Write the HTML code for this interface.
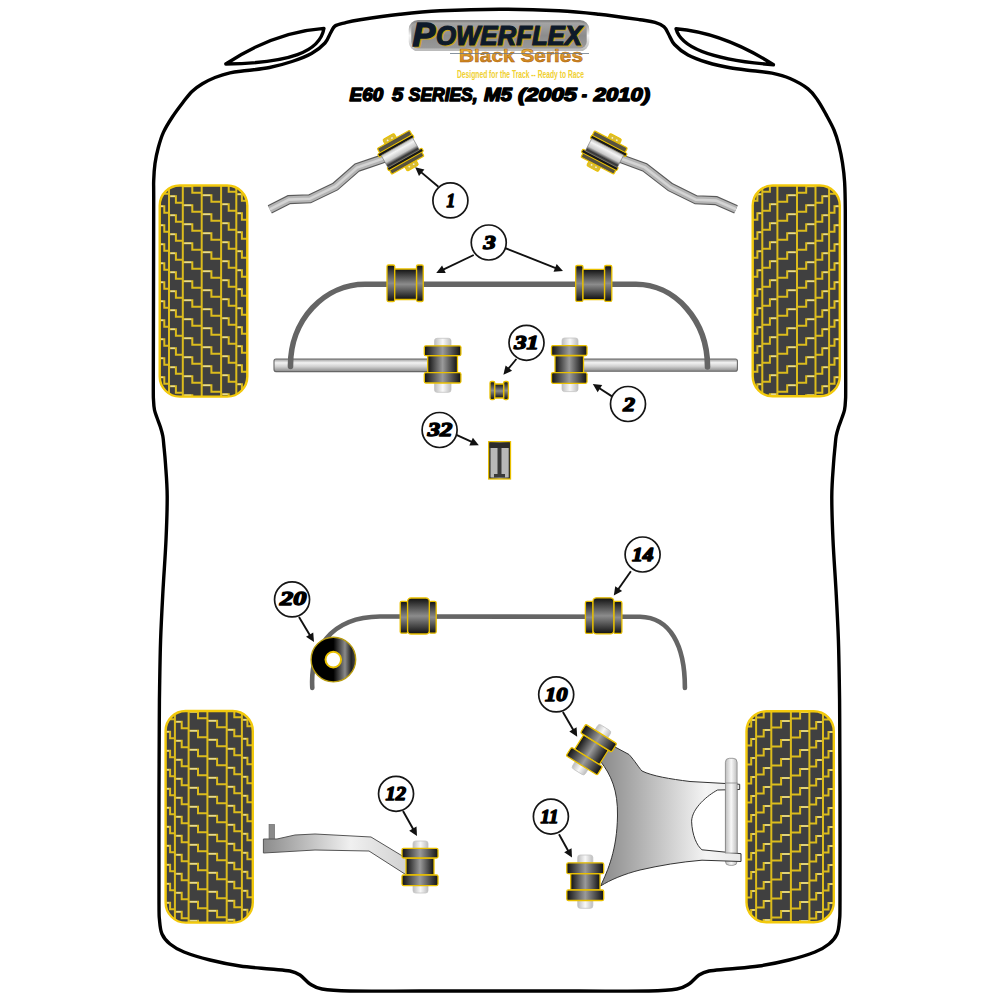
<!DOCTYPE html>
<html><head><meta charset="utf-8"><style>
html,body{margin:0;padding:0;background:#fff;width:1000px;height:1000px;overflow:hidden}
svg{display:block}
</style></head><body>
<svg width="1000" height="1000" viewBox="0 0 1000 1000">
<defs>
<linearGradient id="gV" x1="0" y1="0" x2="0" y2="1">
 <stop offset="0" stop-color="#111"/><stop offset="0.5" stop-color="#8c8c8c"/><stop offset="1" stop-color="#111"/>
</linearGradient>
<linearGradient id="gH" x1="0" y1="0" x2="1" y2="0">
 <stop offset="0" stop-color="#111"/><stop offset="0.5" stop-color="#9a9a9a"/><stop offset="1" stop-color="#111"/>
</linearGradient>
<linearGradient id="gBar" x1="0" y1="0" x2="0" y2="1">
 <stop offset="0" stop-color="#9a9a9a"/><stop offset="0.3" stop-color="#f2f2f2"/><stop offset="0.6" stop-color="#d0d0d0"/><stop offset="1" stop-color="#8a8a8a"/>
</linearGradient>
<linearGradient id="gBolt" x1="0" y1="0" x2="1" y2="0">
 <stop offset="0" stop-color="#bdbdbd"/><stop offset="0.5" stop-color="#f8f8f8"/><stop offset="1" stop-color="#bdbdbd"/>
</linearGradient>
<linearGradient id="gSilver" x1="0" y1="0" x2="0" y2="1">
 <stop offset="0" stop-color="#bcbcbc"/><stop offset="0.25" stop-color="#f4f4f4"/><stop offset="0.6" stop-color="#c8c8c8"/><stop offset="0.85" stop-color="#333"/><stop offset="1" stop-color="#555"/>
</linearGradient>
<linearGradient id="gFlange" x1="0" y1="0" x2="0" y2="1">
 <stop offset="0" stop-color="#d8b418"/><stop offset="0.35" stop-color="#3a3414"/><stop offset="0.55" stop-color="#c8a818"/><stop offset="1" stop-color="#9a8420"/>
</linearGradient>
<linearGradient id="gDisc" x1="0" y1="0" x2="1" y2="0">
 <stop offset="0" stop-color="#000"/><stop offset="0.5" stop-color="#000"/><stop offset="0.76" stop-color="#8a8a8a"/><stop offset="0.9" stop-color="#222"/><stop offset="1" stop-color="#444"/>
</linearGradient>
<linearGradient id="gArm" x1="0" y1="0" x2="1" y2="0">
 <stop offset="0" stop-color="#8c8c8c"/><stop offset="0.6" stop-color="#f0f0f0"/><stop offset="1" stop-color="#d0d0d0"/>
</linearGradient>
<linearGradient id="gWish" x1="0" y1="0" x2="1" y2="0">
 <stop offset="0" stop-color="#8a8a8a"/><stop offset="0.75" stop-color="#f4f4f4"/><stop offset="1" stop-color="#e8e8e8"/>
</linearGradient>


<linearGradient id="gLogoBg" x1="0" y1="0" x2="0" y2="1">
 <stop offset="0" stop-color="#a8a8a8"/><stop offset="0.5" stop-color="#8c8c8c"/><stop offset="1" stop-color="#9a9a9a"/>
</linearGradient>
<linearGradient id="gLogoBd" x1="0" y1="0" x2="0" y2="1">
 <stop offset="0" stop-color="#888"/><stop offset="0.5" stop-color="#f4f4f4"/><stop offset="1" stop-color="#bbb"/>
</linearGradient>
<linearGradient id="gOrange" x1="0" y1="0" x2="0" y2="1">
 <stop offset="0" stop-color="#f2c040"/><stop offset="1" stop-color="#c87818"/>
</linearGradient>
</defs>
<path d="M499.50 9.20 C479.67 9.20 456.58 9.95 440.00 10.80 C423.42 11.65 413.33 12.80 400.00 14.30 C386.67 15.80 369.17 18.38 360.00 19.80 C350.83 21.22 349.17 21.77 345.00 22.80 C340.83 23.83 337.42 24.30 335.00 26.00 C332.58 27.70 332.17 30.17 330.50 33.00 C328.83 35.83 328.17 39.58 325.00 43.00 C321.83 46.42 317.00 50.42 311.50 53.50 C306.00 56.58 299.00 59.17 292.00 61.50 C285.00 63.83 277.00 66.00 269.50 67.50 C262.00 69.00 253.58 69.62 247.00 70.50 C240.42 71.38 235.33 71.63 230.00 72.80 C224.67 73.97 219.60 75.67 215.00 77.50 C210.40 79.33 206.23 81.47 202.40 83.80 C198.57 86.13 195.25 88.38 192.00 91.50 C188.75 94.62 186.15 98.28 182.90 102.50 C179.65 106.72 175.75 111.82 172.50 116.80 C169.25 121.78 165.78 127.20 163.40 132.40 C161.02 137.60 159.60 142.80 158.20 148.00 C156.80 153.20 155.75 158.18 155.00 163.60 C154.25 169.02 153.92 174.43 153.70 180.50 C153.48 186.57 153.73 180.08 153.70 200.00 C153.67 219.92 153.57 269.17 153.50 300.00 C153.43 330.83 153.30 368.33 153.30 385.00 C153.30 401.67 153.30 395.83 153.50 400.00 C153.70 404.17 153.87 406.92 154.50 410.00 C155.13 413.08 156.32 415.67 157.30 418.50 C158.28 421.33 159.48 424.08 160.40 427.00 C161.32 429.92 162.23 433.00 162.80 436.00 C163.37 439.00 163.35 440.33 163.80 445.00 C164.25 449.67 164.93 455.50 165.50 464.00 C166.07 472.50 167.12 483.33 167.20 496.00 C167.28 508.67 166.72 524.00 166.00 540.00 C165.28 556.00 163.80 575.33 162.90 592.00 C162.00 608.67 161.15 624.00 160.60 640.00 C160.05 656.00 159.82 674.67 159.60 688.00 C159.38 701.33 159.40 701.33 159.30 720.00 C159.20 738.67 159.05 770.00 159.00 800.00 C158.95 830.00 158.92 880.00 159.00 900.00 C159.08 920.00 159.00 914.33 159.50 920.00 C160.00 925.67 160.25 930.00 162.00 934.00 C163.75 938.00 166.33 941.00 170.00 944.00 C173.67 947.00 177.33 949.33 184.00 952.00 C190.67 954.67 200.67 957.67 210.00 960.00 C219.33 962.33 230.00 964.50 240.00 966.00 C250.00 967.50 261.67 968.17 270.00 969.00 C278.33 969.83 285.00 970.00 290.00 971.00 C295.00 972.00 296.67 972.83 300.00 975.00 C303.33 977.17 306.33 981.67 310.00 984.00 C313.67 986.33 315.33 987.83 322.00 989.00 C328.67 990.17 333.67 990.67 350.00 991.00 C366.33 991.33 395.08 991.00 420.00 991.00 C444.92 991.00 473.00 991.00 499.50 991.00 C526.00 991.00 554.08 991.00 579.00 991.00 C603.92 991.00 632.67 991.33 649.00 991.00 C665.33 990.67 670.33 990.17 677.00 989.00 C683.67 987.83 685.33 986.33 689.00 984.00 C692.67 981.67 695.67 977.17 699.00 975.00 C702.33 972.83 704.00 972.00 709.00 971.00 C714.00 970.00 720.67 969.83 729.00 969.00 C737.33 968.17 749.00 967.50 759.00 966.00 C769.00 964.50 779.67 962.33 789.00 960.00 C798.33 957.67 808.33 954.67 815.00 952.00 C821.67 949.33 825.33 947.00 829.00 944.00 C832.67 941.00 835.25 938.00 837.00 934.00 C838.75 930.00 839.00 925.67 839.50 920.00 C840.00 914.33 839.92 920.00 840.00 900.00 C840.08 880.00 840.05 830.00 840.00 800.00 C839.95 770.00 839.80 738.67 839.70 720.00 C839.60 701.33 839.62 701.33 839.40 688.00 C839.18 674.67 838.95 656.00 838.40 640.00 C837.85 624.00 837.00 608.67 836.10 592.00 C835.20 575.33 833.72 556.00 833.00 540.00 C832.28 524.00 831.72 508.67 831.80 496.00 C831.88 483.33 832.93 472.50 833.50 464.00 C834.07 455.50 834.75 449.67 835.20 445.00 C835.65 440.33 835.63 439.00 836.20 436.00 C836.77 433.00 837.68 429.92 838.60 427.00 C839.52 424.08 840.72 421.33 841.70 418.50 C842.68 415.67 843.87 413.08 844.50 410.00 C845.13 406.92 845.30 404.17 845.50 400.00 C845.70 395.83 845.70 401.67 845.70 385.00 C845.70 368.33 845.57 329.17 845.50 300.00 C845.43 270.83 845.45 229.67 845.30 210.00 C845.15 190.33 845.07 189.83 844.60 182.00 C844.13 174.17 843.43 169.07 842.50 163.00 C841.57 156.93 840.42 151.10 839.00 145.60 C837.58 140.10 836.17 135.20 834.00 130.00 C831.83 124.80 828.75 119.40 826.00 114.40 C823.25 109.40 820.50 104.27 817.50 100.00 C814.50 95.73 812.58 92.38 808.00 88.80 C803.42 85.22 796.00 81.10 790.00 78.50 C784.00 75.90 778.25 74.49 772.00 73.20 C765.75 71.91 759.50 71.66 752.50 70.75 C745.50 69.84 737.50 69.12 730.00 67.75 C722.50 66.38 714.50 64.62 707.50 62.50 C700.50 60.38 693.50 58.00 688.00 55.00 C682.50 52.00 677.75 48.00 674.50 44.50 C671.25 41.00 670.25 36.95 668.50 34.00 C666.75 31.05 666.25 28.75 664.00 26.80 C661.75 24.85 659.00 23.48 655.00 22.30 C651.00 21.12 649.33 21.08 640.00 19.75 C630.67 18.42 612.50 15.79 599.00 14.30 C585.50 12.81 575.58 11.65 559.00 10.80 C542.42 9.95 519.33 9.20 499.50 9.20 Z" fill="none" stroke="#000" stroke-width="3.4" stroke-linejoin="round"/>
<path d="M225.75 64 C250 48 285 31 324 28.3 C320 52 290 63 225.75 64 Z" fill="none" stroke="#000" stroke-width="3.3" stroke-linejoin="round"/>
<path d="M773.5 64.75 C749 49 714 32 676 28.75 C681 48 712 60 773.5 64.75 Z" fill="none" stroke="#000" stroke-width="3.3" stroke-linejoin="round"/>
<clipPath id="t1"><rect x="159.5" y="185.3" width="88.0" height="211.5" rx="20"/></clipPath>
<rect x="159.5" y="185.3" width="88.0" height="211.5" rx="20" fill="#404040"/>
<g clip-path="url(#t1)"><g><path d="M169.0 185.3 V396.8 M182.8 185.3 V396.8 M201.7 185.3 V396.8 M221.1 185.3 V396.8 M236.3 185.3 V396.8 M159.5 149.3 H164.3 V155.8 H169.0 M159.5 168.3 H164.3 V174.8 H169.0 M159.5 187.3 H164.3 V193.8 H169.0 M159.5 206.3 H164.3 V212.8 H169.0 M159.5 225.3 H164.3 V231.8 H169.0 M159.5 244.3 H164.3 V250.8 H169.0 M159.5 263.3 H164.3 V269.8 H169.0 M159.5 282.3 H164.3 V288.8 H169.0 M159.5 301.3 H164.3 V307.8 H169.0 M159.5 320.3 H164.3 V326.8 H169.0 M159.5 339.3 H164.3 V345.8 H169.0 M159.5 358.3 H164.3 V364.8 H169.0 M159.5 377.3 H164.3 V383.8 H169.0 M159.5 396.3 H164.3 V402.8 H169.0 M159.5 415.3 H164.3 V421.8 H169.0 M169.0 158.3 H175.9 V164.8 H182.8 M169.0 177.3 H175.9 V183.8 H182.8 M169.0 196.3 H175.9 V202.8 H182.8 M169.0 215.3 H175.9 V221.8 H182.8 M169.0 234.3 H175.9 V240.8 H182.8 M169.0 253.3 H175.9 V259.8 H182.8 M169.0 272.3 H175.9 V278.8 H182.8 M169.0 291.3 H175.9 V297.8 H182.8 M169.0 310.3 H175.9 V316.8 H182.8 M169.0 329.3 H175.9 V335.8 H182.8 M169.0 348.3 H175.9 V354.8 H182.8 M169.0 367.3 H175.9 V373.8 H182.8 M169.0 386.3 H175.9 V392.8 H182.8 M169.0 405.3 H175.9 V411.8 H182.8 M182.8 167.3 H192.3 V173.8 H201.7 M182.8 186.3 H192.3 V192.8 H201.7 M182.8 205.3 H192.3 V211.8 H201.7 M182.8 224.3 H192.3 V230.8 H201.7 M182.8 243.3 H192.3 V249.8 H201.7 M182.8 262.3 H192.3 V268.8 H201.7 M182.8 281.3 H192.3 V287.8 H201.7 M182.8 300.3 H192.3 V306.8 H201.7 M182.8 319.3 H192.3 V325.8 H201.7 M182.8 338.3 H192.3 V344.8 H201.7 M182.8 357.3 H192.3 V363.8 H201.7 M182.8 376.3 H192.3 V382.8 H201.7 M182.8 395.3 H192.3 V401.8 H201.7 M182.8 414.3 H192.3 V420.8 H201.7 M201.7 176.3 H211.4 V182.8 H221.1 M201.7 195.3 H211.4 V201.8 H221.1 M201.7 214.3 H211.4 V220.8 H221.1 M201.7 233.3 H211.4 V239.8 H221.1 M201.7 252.3 H211.4 V258.8 H221.1 M201.7 271.3 H211.4 V277.8 H221.1 M201.7 290.3 H211.4 V296.8 H221.1 M201.7 309.3 H211.4 V315.8 H221.1 M201.7 328.3 H211.4 V334.8 H221.1 M201.7 347.3 H211.4 V353.8 H221.1 M201.7 366.3 H211.4 V372.8 H221.1 M201.7 385.3 H211.4 V391.8 H221.1 M201.7 404.3 H211.4 V410.8 H221.1 M221.1 185.3 H228.7 V191.8 H236.3 M221.1 204.3 H228.7 V210.8 H236.3 M221.1 223.3 H228.7 V229.8 H236.3 M221.1 242.3 H228.7 V248.8 H236.3 M221.1 261.3 H228.7 V267.8 H236.3 M221.1 280.3 H228.7 V286.8 H236.3 M221.1 299.3 H228.7 V305.8 H236.3 M221.1 318.3 H228.7 V324.8 H236.3 M221.1 337.3 H228.7 V343.8 H236.3 M221.1 356.3 H228.7 V362.8 H236.3 M221.1 375.3 H228.7 V381.8 H236.3 M221.1 394.3 H228.7 V400.8 H236.3 M221.1 413.3 H228.7 V419.8 H236.3 M236.3 194.3 H241.9 V200.8 H247.5 M236.3 213.3 H241.9 V219.8 H247.5 M236.3 232.3 H241.9 V238.8 H247.5 M236.3 251.3 H241.9 V257.8 H247.5 M236.3 270.3 H241.9 V276.8 H247.5 M236.3 289.3 H241.9 V295.8 H247.5 M236.3 308.3 H241.9 V314.8 H247.5 M236.3 327.3 H241.9 V333.8 H247.5 M236.3 346.3 H241.9 V352.8 H247.5 M236.3 365.3 H241.9 V371.8 H247.5 M236.3 384.3 H241.9 V390.8 H247.5 M236.3 403.3 H241.9 V409.8 H247.5" stroke="#dcbc1c" stroke-width="2" fill="none"/>
<path d="M161.0 149.3 H163.3 M161.0 168.3 H163.3 M161.0 187.3 H163.3 M161.0 206.3 H163.3 M161.0 225.3 H163.3 M161.0 244.3 H163.3 M161.0 263.3 H163.3 M161.0 282.3 H163.3 M161.0 301.3 H163.3 M161.0 320.3 H163.3 M161.0 339.3 H163.3 M161.0 358.3 H163.3 M161.0 377.3 H163.3 M161.0 396.3 H163.3 M161.0 415.3 H163.3 M170.5 158.3 H174.9 M170.5 177.3 H174.9 M170.5 196.3 H174.9 M170.5 215.3 H174.9 M170.5 234.3 H174.9 M170.5 253.3 H174.9 M170.5 272.3 H174.9 M170.5 291.3 H174.9 M170.5 310.3 H174.9 M170.5 329.3 H174.9 M170.5 348.3 H174.9 M170.5 367.3 H174.9 M170.5 386.3 H174.9 M170.5 405.3 H174.9 M184.3 167.3 H191.3 M184.3 186.3 H191.3 M184.3 205.3 H191.3 M184.3 224.3 H191.3 M184.3 243.3 H191.3 M184.3 262.3 H191.3 M184.3 281.3 H191.3 M184.3 300.3 H191.3 M184.3 319.3 H191.3 M184.3 338.3 H191.3 M184.3 357.3 H191.3 M184.3 376.3 H191.3 M184.3 395.3 H191.3 M184.3 414.3 H191.3 M203.2 176.3 H210.4 M203.2 195.3 H210.4 M203.2 214.3 H210.4 M203.2 233.3 H210.4 M203.2 252.3 H210.4 M203.2 271.3 H210.4 M203.2 290.3 H210.4 M203.2 309.3 H210.4 M203.2 328.3 H210.4 M203.2 347.3 H210.4 M203.2 366.3 H210.4 M203.2 385.3 H210.4 M203.2 404.3 H210.4 M222.6 185.3 H227.7 M222.6 204.3 H227.7 M222.6 223.3 H227.7 M222.6 242.3 H227.7 M222.6 261.3 H227.7 M222.6 280.3 H227.7 M222.6 299.3 H227.7 M222.6 318.3 H227.7 M222.6 337.3 H227.7 M222.6 356.3 H227.7 M222.6 375.3 H227.7 M222.6 394.3 H227.7 M222.6 413.3 H227.7 M237.8 194.3 H240.9 M237.8 213.3 H240.9 M237.8 232.3 H240.9 M237.8 251.3 H240.9 M237.8 270.3 H240.9 M237.8 289.3 H240.9 M237.8 308.3 H240.9 M237.8 327.3 H240.9 M237.8 346.3 H240.9 M237.8 365.3 H240.9 M237.8 384.3 H240.9 M237.8 403.3 H240.9" stroke="#e6dfae" stroke-width="1.6" fill="none" opacity="0.85"/></g></g>
<rect x="159.7" y="185.5" width="87.6" height="211.1" rx="20" fill="none" stroke="#f2c90c" stroke-width="2.4"/>
<clipPath id="t2"><rect x="752.5" y="185.3" width="87.5" height="211.2" rx="20"/></clipPath>
<rect x="752.5" y="185.3" width="87.5" height="211.2" rx="20" fill="#404040"/>
<g clip-path="url(#t2)"><g transform="translate(1592.5 0) scale(-1 1)"><path d="M763.4 185.3 V396.5 M777.0 185.3 V396.5 M795.5 185.3 V396.5 M815.1 185.3 V396.5 M830.2 185.3 V396.5 M752.5 149.3 H758.0 V155.8 H763.4 M752.5 168.3 H758.0 V174.8 H763.4 M752.5 187.3 H758.0 V193.8 H763.4 M752.5 206.3 H758.0 V212.8 H763.4 M752.5 225.3 H758.0 V231.8 H763.4 M752.5 244.3 H758.0 V250.8 H763.4 M752.5 263.3 H758.0 V269.8 H763.4 M752.5 282.3 H758.0 V288.8 H763.4 M752.5 301.3 H758.0 V307.8 H763.4 M752.5 320.3 H758.0 V326.8 H763.4 M752.5 339.3 H758.0 V345.8 H763.4 M752.5 358.3 H758.0 V364.8 H763.4 M752.5 377.3 H758.0 V383.8 H763.4 M752.5 396.3 H758.0 V402.8 H763.4 M752.5 415.3 H758.0 V421.8 H763.4 M763.4 158.3 H770.2 V164.8 H777.0 M763.4 177.3 H770.2 V183.8 H777.0 M763.4 196.3 H770.2 V202.8 H777.0 M763.4 215.3 H770.2 V221.8 H777.0 M763.4 234.3 H770.2 V240.8 H777.0 M763.4 253.3 H770.2 V259.8 H777.0 M763.4 272.3 H770.2 V278.8 H777.0 M763.4 291.3 H770.2 V297.8 H777.0 M763.4 310.3 H770.2 V316.8 H777.0 M763.4 329.3 H770.2 V335.8 H777.0 M763.4 348.3 H770.2 V354.8 H777.0 M763.4 367.3 H770.2 V373.8 H777.0 M763.4 386.3 H770.2 V392.8 H777.0 M763.4 405.3 H770.2 V411.8 H777.0 M777.0 167.3 H786.3 V173.8 H795.5 M777.0 186.3 H786.3 V192.8 H795.5 M777.0 205.3 H786.3 V211.8 H795.5 M777.0 224.3 H786.3 V230.8 H795.5 M777.0 243.3 H786.3 V249.8 H795.5 M777.0 262.3 H786.3 V268.8 H795.5 M777.0 281.3 H786.3 V287.8 H795.5 M777.0 300.3 H786.3 V306.8 H795.5 M777.0 319.3 H786.3 V325.8 H795.5 M777.0 338.3 H786.3 V344.8 H795.5 M777.0 357.3 H786.3 V363.8 H795.5 M777.0 376.3 H786.3 V382.8 H795.5 M777.0 395.3 H786.3 V401.8 H795.5 M777.0 414.3 H786.3 V420.8 H795.5 M795.5 176.3 H805.3 V182.8 H815.1 M795.5 195.3 H805.3 V201.8 H815.1 M795.5 214.3 H805.3 V220.8 H815.1 M795.5 233.3 H805.3 V239.8 H815.1 M795.5 252.3 H805.3 V258.8 H815.1 M795.5 271.3 H805.3 V277.8 H815.1 M795.5 290.3 H805.3 V296.8 H815.1 M795.5 309.3 H805.3 V315.8 H815.1 M795.5 328.3 H805.3 V334.8 H815.1 M795.5 347.3 H805.3 V353.8 H815.1 M795.5 366.3 H805.3 V372.8 H815.1 M795.5 385.3 H805.3 V391.8 H815.1 M795.5 404.3 H805.3 V410.8 H815.1 M815.1 185.3 H822.6 V191.8 H830.2 M815.1 204.3 H822.6 V210.8 H830.2 M815.1 223.3 H822.6 V229.8 H830.2 M815.1 242.3 H822.6 V248.8 H830.2 M815.1 261.3 H822.6 V267.8 H830.2 M815.1 280.3 H822.6 V286.8 H830.2 M815.1 299.3 H822.6 V305.8 H830.2 M815.1 318.3 H822.6 V324.8 H830.2 M815.1 337.3 H822.6 V343.8 H830.2 M815.1 356.3 H822.6 V362.8 H830.2 M815.1 375.3 H822.6 V381.8 H830.2 M815.1 394.3 H822.6 V400.8 H830.2 M815.1 413.3 H822.6 V419.8 H830.2 M830.2 194.3 H835.1 V200.8 H840.0 M830.2 213.3 H835.1 V219.8 H840.0 M830.2 232.3 H835.1 V238.8 H840.0 M830.2 251.3 H835.1 V257.8 H840.0 M830.2 270.3 H835.1 V276.8 H840.0 M830.2 289.3 H835.1 V295.8 H840.0 M830.2 308.3 H835.1 V314.8 H840.0 M830.2 327.3 H835.1 V333.8 H840.0 M830.2 346.3 H835.1 V352.8 H840.0 M830.2 365.3 H835.1 V371.8 H840.0 M830.2 384.3 H835.1 V390.8 H840.0 M830.2 403.3 H835.1 V409.8 H840.0" stroke="#dcbc1c" stroke-width="2" fill="none"/>
<path d="M754.0 149.3 H757.0 M754.0 168.3 H757.0 M754.0 187.3 H757.0 M754.0 206.3 H757.0 M754.0 225.3 H757.0 M754.0 244.3 H757.0 M754.0 263.3 H757.0 M754.0 282.3 H757.0 M754.0 301.3 H757.0 M754.0 320.3 H757.0 M754.0 339.3 H757.0 M754.0 358.3 H757.0 M754.0 377.3 H757.0 M754.0 396.3 H757.0 M754.0 415.3 H757.0 M764.9 158.3 H769.2 M764.9 177.3 H769.2 M764.9 196.3 H769.2 M764.9 215.3 H769.2 M764.9 234.3 H769.2 M764.9 253.3 H769.2 M764.9 272.3 H769.2 M764.9 291.3 H769.2 M764.9 310.3 H769.2 M764.9 329.3 H769.2 M764.9 348.3 H769.2 M764.9 367.3 H769.2 M764.9 386.3 H769.2 M764.9 405.3 H769.2 M778.5 167.3 H785.3 M778.5 186.3 H785.3 M778.5 205.3 H785.3 M778.5 224.3 H785.3 M778.5 243.3 H785.3 M778.5 262.3 H785.3 M778.5 281.3 H785.3 M778.5 300.3 H785.3 M778.5 319.3 H785.3 M778.5 338.3 H785.3 M778.5 357.3 H785.3 M778.5 376.3 H785.3 M778.5 395.3 H785.3 M778.5 414.3 H785.3 M797.0 176.3 H804.3 M797.0 195.3 H804.3 M797.0 214.3 H804.3 M797.0 233.3 H804.3 M797.0 252.3 H804.3 M797.0 271.3 H804.3 M797.0 290.3 H804.3 M797.0 309.3 H804.3 M797.0 328.3 H804.3 M797.0 347.3 H804.3 M797.0 366.3 H804.3 M797.0 385.3 H804.3 M797.0 404.3 H804.3 M816.6 185.3 H821.6 M816.6 204.3 H821.6 M816.6 223.3 H821.6 M816.6 242.3 H821.6 M816.6 261.3 H821.6 M816.6 280.3 H821.6 M816.6 299.3 H821.6 M816.6 318.3 H821.6 M816.6 337.3 H821.6 M816.6 356.3 H821.6 M816.6 375.3 H821.6 M816.6 394.3 H821.6 M816.6 413.3 H821.6 M831.7 194.3 H834.1 M831.7 213.3 H834.1 M831.7 232.3 H834.1 M831.7 251.3 H834.1 M831.7 270.3 H834.1 M831.7 289.3 H834.1 M831.7 308.3 H834.1 M831.7 327.3 H834.1 M831.7 346.3 H834.1 M831.7 365.3 H834.1 M831.7 384.3 H834.1 M831.7 403.3 H834.1" stroke="#e6dfae" stroke-width="1.6" fill="none" opacity="0.85"/></g></g>
<rect x="752.7" y="185.5" width="87.1" height="210.8" rx="20" fill="none" stroke="#f2c90c" stroke-width="2.4"/>
<clipPath id="t3"><rect x="165.4" y="710.8" width="87.6" height="212.0" rx="20"/></clipPath>
<rect x="165.4" y="710.8" width="87.6" height="212.0" rx="20" fill="#404040"/>
<g clip-path="url(#t3)"><g><path d="M174.9 710.8 V922.8 M188.6 710.8 V922.8 M207.4 710.8 V922.8 M226.7 710.8 V922.8 M241.9 710.8 V922.8 M165.4 674.8 H170.1 V681.3 H174.9 M165.4 693.8 H170.1 V700.3 H174.9 M165.4 712.8 H170.1 V719.3 H174.9 M165.4 731.8 H170.1 V738.3 H174.9 M165.4 750.8 H170.1 V757.3 H174.9 M165.4 769.8 H170.1 V776.3 H174.9 M165.4 788.8 H170.1 V795.3 H174.9 M165.4 807.8 H170.1 V814.3 H174.9 M165.4 826.8 H170.1 V833.3 H174.9 M165.4 845.8 H170.1 V852.3 H174.9 M165.4 864.8 H170.1 V871.3 H174.9 M165.4 883.8 H170.1 V890.3 H174.9 M165.4 902.8 H170.1 V909.3 H174.9 M165.4 921.8 H170.1 V928.3 H174.9 M165.4 940.8 H170.1 V947.3 H174.9 M174.9 683.8 H181.7 V690.3 H188.6 M174.9 702.8 H181.7 V709.3 H188.6 M174.9 721.8 H181.7 V728.3 H188.6 M174.9 740.8 H181.7 V747.3 H188.6 M174.9 759.8 H181.7 V766.3 H188.6 M174.9 778.8 H181.7 V785.3 H188.6 M174.9 797.8 H181.7 V804.3 H188.6 M174.9 816.8 H181.7 V823.3 H188.6 M174.9 835.8 H181.7 V842.3 H188.6 M174.9 854.8 H181.7 V861.3 H188.6 M174.9 873.8 H181.7 V880.3 H188.6 M174.9 892.8 H181.7 V899.3 H188.6 M174.9 911.8 H181.7 V918.3 H188.6 M174.9 930.8 H181.7 V937.3 H188.6 M188.6 692.8 H198.0 V699.3 H207.4 M188.6 711.8 H198.0 V718.3 H207.4 M188.6 730.8 H198.0 V737.3 H207.4 M188.6 749.8 H198.0 V756.3 H207.4 M188.6 768.8 H198.0 V775.3 H207.4 M188.6 787.8 H198.0 V794.3 H207.4 M188.6 806.8 H198.0 V813.3 H207.4 M188.6 825.8 H198.0 V832.3 H207.4 M188.6 844.8 H198.0 V851.3 H207.4 M188.6 863.8 H198.0 V870.3 H207.4 M188.6 882.8 H198.0 V889.3 H207.4 M188.6 901.8 H198.0 V908.3 H207.4 M188.6 920.8 H198.0 V927.3 H207.4 M188.6 939.8 H198.0 V946.3 H207.4 M207.4 701.8 H217.1 V708.3 H226.7 M207.4 720.8 H217.1 V727.3 H226.7 M207.4 739.8 H217.1 V746.3 H226.7 M207.4 758.8 H217.1 V765.3 H226.7 M207.4 777.8 H217.1 V784.3 H226.7 M207.4 796.8 H217.1 V803.3 H226.7 M207.4 815.8 H217.1 V822.3 H226.7 M207.4 834.8 H217.1 V841.3 H226.7 M207.4 853.8 H217.1 V860.3 H226.7 M207.4 872.8 H217.1 V879.3 H226.7 M207.4 891.8 H217.1 V898.3 H226.7 M207.4 910.8 H217.1 V917.3 H226.7 M207.4 929.8 H217.1 V936.3 H226.7 M226.7 710.8 H234.3 V717.3 H241.9 M226.7 729.8 H234.3 V736.3 H241.9 M226.7 748.8 H234.3 V755.3 H241.9 M226.7 767.8 H234.3 V774.3 H241.9 M226.7 786.8 H234.3 V793.3 H241.9 M226.7 805.8 H234.3 V812.3 H241.9 M226.7 824.8 H234.3 V831.3 H241.9 M226.7 843.8 H234.3 V850.3 H241.9 M226.7 862.8 H234.3 V869.3 H241.9 M226.7 881.8 H234.3 V888.3 H241.9 M226.7 900.8 H234.3 V907.3 H241.9 M226.7 919.8 H234.3 V926.3 H241.9 M226.7 938.8 H234.3 V945.3 H241.9 M241.9 719.8 H247.4 V726.3 H253.0 M241.9 738.8 H247.4 V745.3 H253.0 M241.9 757.8 H247.4 V764.3 H253.0 M241.9 776.8 H247.4 V783.3 H253.0 M241.9 795.8 H247.4 V802.3 H253.0 M241.9 814.8 H247.4 V821.3 H253.0 M241.9 833.8 H247.4 V840.3 H253.0 M241.9 852.8 H247.4 V859.3 H253.0 M241.9 871.8 H247.4 V878.3 H253.0 M241.9 890.8 H247.4 V897.3 H253.0 M241.9 909.8 H247.4 V916.3 H253.0 M241.9 928.8 H247.4 V935.3 H253.0" stroke="#dcbc1c" stroke-width="2" fill="none"/>
<path d="M166.9 674.8 H169.1 M166.9 693.8 H169.1 M166.9 712.8 H169.1 M166.9 731.8 H169.1 M166.9 750.8 H169.1 M166.9 769.8 H169.1 M166.9 788.8 H169.1 M166.9 807.8 H169.1 M166.9 826.8 H169.1 M166.9 845.8 H169.1 M166.9 864.8 H169.1 M166.9 883.8 H169.1 M166.9 902.8 H169.1 M166.9 921.8 H169.1 M166.9 940.8 H169.1 M176.4 683.8 H180.7 M176.4 702.8 H180.7 M176.4 721.8 H180.7 M176.4 740.8 H180.7 M176.4 759.8 H180.7 M176.4 778.8 H180.7 M176.4 797.8 H180.7 M176.4 816.8 H180.7 M176.4 835.8 H180.7 M176.4 854.8 H180.7 M176.4 873.8 H180.7 M176.4 892.8 H180.7 M176.4 911.8 H180.7 M176.4 930.8 H180.7 M190.1 692.8 H197.0 M190.1 711.8 H197.0 M190.1 730.8 H197.0 M190.1 749.8 H197.0 M190.1 768.8 H197.0 M190.1 787.8 H197.0 M190.1 806.8 H197.0 M190.1 825.8 H197.0 M190.1 844.8 H197.0 M190.1 863.8 H197.0 M190.1 882.8 H197.0 M190.1 901.8 H197.0 M190.1 920.8 H197.0 M190.1 939.8 H197.0 M208.9 701.8 H216.1 M208.9 720.8 H216.1 M208.9 739.8 H216.1 M208.9 758.8 H216.1 M208.9 777.8 H216.1 M208.9 796.8 H216.1 M208.9 815.8 H216.1 M208.9 834.8 H216.1 M208.9 853.8 H216.1 M208.9 872.8 H216.1 M208.9 891.8 H216.1 M208.9 910.8 H216.1 M208.9 929.8 H216.1 M228.2 710.8 H233.3 M228.2 729.8 H233.3 M228.2 748.8 H233.3 M228.2 767.8 H233.3 M228.2 786.8 H233.3 M228.2 805.8 H233.3 M228.2 824.8 H233.3 M228.2 843.8 H233.3 M228.2 862.8 H233.3 M228.2 881.8 H233.3 M228.2 900.8 H233.3 M228.2 919.8 H233.3 M228.2 938.8 H233.3 M243.4 719.8 H246.4 M243.4 738.8 H246.4 M243.4 757.8 H246.4 M243.4 776.8 H246.4 M243.4 795.8 H246.4 M243.4 814.8 H246.4 M243.4 833.8 H246.4 M243.4 852.8 H246.4 M243.4 871.8 H246.4 M243.4 890.8 H246.4 M243.4 909.8 H246.4 M243.4 928.8 H246.4" stroke="#e6dfae" stroke-width="1.6" fill="none" opacity="0.85"/></g></g>
<rect x="165.6" y="711.0" width="87.2" height="211.6" rx="20" fill="none" stroke="#f2c90c" stroke-width="2.4"/>
<clipPath id="t4"><rect x="746.3" y="711.0" width="87.7" height="211.5" rx="20"/></clipPath>
<rect x="746.3" y="711.0" width="87.7" height="211.5" rx="20" fill="#404040"/>
<g clip-path="url(#t4)"><g transform="translate(1580.3 0) scale(-1 1)"><path d="M757.3 711.0 V922.5 M770.9 711.0 V922.5 M789.4 711.0 V922.5 M809.0 711.0 V922.5 M824.2 711.0 V922.5 M746.3 675.0 H751.8 V681.5 H757.3 M746.3 694.0 H751.8 V700.5 H757.3 M746.3 713.0 H751.8 V719.5 H757.3 M746.3 732.0 H751.8 V738.5 H757.3 M746.3 751.0 H751.8 V757.5 H757.3 M746.3 770.0 H751.8 V776.5 H757.3 M746.3 789.0 H751.8 V795.5 H757.3 M746.3 808.0 H751.8 V814.5 H757.3 M746.3 827.0 H751.8 V833.5 H757.3 M746.3 846.0 H751.8 V852.5 H757.3 M746.3 865.0 H751.8 V871.5 H757.3 M746.3 884.0 H751.8 V890.5 H757.3 M746.3 903.0 H751.8 V909.5 H757.3 M746.3 922.0 H751.8 V928.5 H757.3 M746.3 941.0 H751.8 V947.5 H757.3 M757.3 684.0 H764.1 V690.5 H770.9 M757.3 703.0 H764.1 V709.5 H770.9 M757.3 722.0 H764.1 V728.5 H770.9 M757.3 741.0 H764.1 V747.5 H770.9 M757.3 760.0 H764.1 V766.5 H770.9 M757.3 779.0 H764.1 V785.5 H770.9 M757.3 798.0 H764.1 V804.5 H770.9 M757.3 817.0 H764.1 V823.5 H770.9 M757.3 836.0 H764.1 V842.5 H770.9 M757.3 855.0 H764.1 V861.5 H770.9 M757.3 874.0 H764.1 V880.5 H770.9 M757.3 893.0 H764.1 V899.5 H770.9 M757.3 912.0 H764.1 V918.5 H770.9 M757.3 931.0 H764.1 V937.5 H770.9 M770.9 693.0 H780.2 V699.5 H789.4 M770.9 712.0 H780.2 V718.5 H789.4 M770.9 731.0 H780.2 V737.5 H789.4 M770.9 750.0 H780.2 V756.5 H789.4 M770.9 769.0 H780.2 V775.5 H789.4 M770.9 788.0 H780.2 V794.5 H789.4 M770.9 807.0 H780.2 V813.5 H789.4 M770.9 826.0 H780.2 V832.5 H789.4 M770.9 845.0 H780.2 V851.5 H789.4 M770.9 864.0 H780.2 V870.5 H789.4 M770.9 883.0 H780.2 V889.5 H789.4 M770.9 902.0 H780.2 V908.5 H789.4 M770.9 921.0 H780.2 V927.5 H789.4 M770.9 940.0 H780.2 V946.5 H789.4 M789.4 702.0 H799.2 V708.5 H809.0 M789.4 721.0 H799.2 V727.5 H809.0 M789.4 740.0 H799.2 V746.5 H809.0 M789.4 759.0 H799.2 V765.5 H809.0 M789.4 778.0 H799.2 V784.5 H809.0 M789.4 797.0 H799.2 V803.5 H809.0 M789.4 816.0 H799.2 V822.5 H809.0 M789.4 835.0 H799.2 V841.5 H809.0 M789.4 854.0 H799.2 V860.5 H809.0 M789.4 873.0 H799.2 V879.5 H809.0 M789.4 892.0 H799.2 V898.5 H809.0 M789.4 911.0 H799.2 V917.5 H809.0 M789.4 930.0 H799.2 V936.5 H809.0 M809.0 711.0 H816.6 V717.5 H824.2 M809.0 730.0 H816.6 V736.5 H824.2 M809.0 749.0 H816.6 V755.5 H824.2 M809.0 768.0 H816.6 V774.5 H824.2 M809.0 787.0 H816.6 V793.5 H824.2 M809.0 806.0 H816.6 V812.5 H824.2 M809.0 825.0 H816.6 V831.5 H824.2 M809.0 844.0 H816.6 V850.5 H824.2 M809.0 863.0 H816.6 V869.5 H824.2 M809.0 882.0 H816.6 V888.5 H824.2 M809.0 901.0 H816.6 V907.5 H824.2 M809.0 920.0 H816.6 V926.5 H824.2 M809.0 939.0 H816.6 V945.5 H824.2 M824.2 720.0 H829.1 V726.5 H834.0 M824.2 739.0 H829.1 V745.5 H834.0 M824.2 758.0 H829.1 V764.5 H834.0 M824.2 777.0 H829.1 V783.5 H834.0 M824.2 796.0 H829.1 V802.5 H834.0 M824.2 815.0 H829.1 V821.5 H834.0 M824.2 834.0 H829.1 V840.5 H834.0 M824.2 853.0 H829.1 V859.5 H834.0 M824.2 872.0 H829.1 V878.5 H834.0 M824.2 891.0 H829.1 V897.5 H834.0 M824.2 910.0 H829.1 V916.5 H834.0 M824.2 929.0 H829.1 V935.5 H834.0" stroke="#dcbc1c" stroke-width="2" fill="none"/>
<path d="M747.8 675.0 H750.8 M747.8 694.0 H750.8 M747.8 713.0 H750.8 M747.8 732.0 H750.8 M747.8 751.0 H750.8 M747.8 770.0 H750.8 M747.8 789.0 H750.8 M747.8 808.0 H750.8 M747.8 827.0 H750.8 M747.8 846.0 H750.8 M747.8 865.0 H750.8 M747.8 884.0 H750.8 M747.8 903.0 H750.8 M747.8 922.0 H750.8 M747.8 941.0 H750.8 M758.8 684.0 H763.1 M758.8 703.0 H763.1 M758.8 722.0 H763.1 M758.8 741.0 H763.1 M758.8 760.0 H763.1 M758.8 779.0 H763.1 M758.8 798.0 H763.1 M758.8 817.0 H763.1 M758.8 836.0 H763.1 M758.8 855.0 H763.1 M758.8 874.0 H763.1 M758.8 893.0 H763.1 M758.8 912.0 H763.1 M758.8 931.0 H763.1 M772.4 693.0 H779.2 M772.4 712.0 H779.2 M772.4 731.0 H779.2 M772.4 750.0 H779.2 M772.4 769.0 H779.2 M772.4 788.0 H779.2 M772.4 807.0 H779.2 M772.4 826.0 H779.2 M772.4 845.0 H779.2 M772.4 864.0 H779.2 M772.4 883.0 H779.2 M772.4 902.0 H779.2 M772.4 921.0 H779.2 M772.4 940.0 H779.2 M790.9 702.0 H798.2 M790.9 721.0 H798.2 M790.9 740.0 H798.2 M790.9 759.0 H798.2 M790.9 778.0 H798.2 M790.9 797.0 H798.2 M790.9 816.0 H798.2 M790.9 835.0 H798.2 M790.9 854.0 H798.2 M790.9 873.0 H798.2 M790.9 892.0 H798.2 M790.9 911.0 H798.2 M790.9 930.0 H798.2 M810.5 711.0 H815.6 M810.5 730.0 H815.6 M810.5 749.0 H815.6 M810.5 768.0 H815.6 M810.5 787.0 H815.6 M810.5 806.0 H815.6 M810.5 825.0 H815.6 M810.5 844.0 H815.6 M810.5 863.0 H815.6 M810.5 882.0 H815.6 M810.5 901.0 H815.6 M810.5 920.0 H815.6 M810.5 939.0 H815.6 M825.7 720.0 H828.1 M825.7 739.0 H828.1 M825.7 758.0 H828.1 M825.7 777.0 H828.1 M825.7 796.0 H828.1 M825.7 815.0 H828.1 M825.7 834.0 H828.1 M825.7 853.0 H828.1 M825.7 872.0 H828.1 M825.7 891.0 H828.1 M825.7 910.0 H828.1 M825.7 929.0 H828.1" stroke="#e6dfae" stroke-width="1.6" fill="none" opacity="0.85"/></g></g>
<rect x="746.5" y="711.2" width="87.3" height="211.1" rx="20" fill="none" stroke="#f2c90c" stroke-width="2.4"/>
<path d="M269.80 209.40 L289.00 199.60 L309.80 198.80 L335.40 186.50 L357.00 167.60 L381.00 159.40 L390.00 156.00" fill="none" stroke="#5a5a5a" stroke-width="9.10" stroke-linejoin="miter"/><path d="M269.80 209.40 L289.00 199.60 L309.80 198.80 L335.40 186.50 L357.00 167.60 L381.00 159.40 L390.00 156.00" fill="none" stroke="#b4b4b4" stroke-width="6.90" stroke-linejoin="miter"/><path d="M269.80 209.40 L289.00 199.60 L309.80 198.80 L335.40 186.50 L357.00 167.60 L381.00 159.40 L390.00 156.00" fill="none" stroke="#d4d4d4" stroke-width="2.60" stroke-linejoin="miter"/>
<g transform="translate(400.35 152.75) rotate(-29.40)">
<rect x="-9" y="-20" width="13" height="6" rx="1.5" fill="#d8bc38" stroke="#e9c000" stroke-width="1.1"/>
<circle cx="-5" cy="-17" r="0.9" fill="#f4f0d8"/><circle cx="0" cy="-17" r="0.9" fill="#f4f0d8"/>
<rect x="-18" y="-15" width="37" height="5.5" rx="1" fill="#575240" stroke="#e9c000" stroke-width="1.2"/>
<rect x="-20.5" y="-10" width="40" height="3.5" rx="1" fill="#181818" stroke="#e9c000" stroke-width="1.1"/>
<rect x="-3" y="13.5" width="13" height="6" rx="1.5" fill="#d8bc38" stroke="#e9c000" stroke-width="1.1"/>
<circle cx="1" cy="16.5" r="0.9" fill="#f4f0d8"/><circle cx="6" cy="16.5" r="0.9" fill="#f4f0d8"/>
<rect x="-18" y="9.5" width="37" height="5" rx="1" fill="#575240" stroke="#e9c000" stroke-width="1.2"/>
<rect x="-19" y="6.5" width="40" height="3.5" rx="1" fill="#181818" stroke="#e9c000" stroke-width="1.1"/>
<rect x="-18" y="-7" width="36" height="14" fill="url(#gSilver)" stroke="#777" stroke-width="0.6"/>
</g>
<path d="M736.00 209.30 L716.00 200.60 L696.00 199.80 L670.40 187.20 L644.80 167.40 L624.00 159.80 L612.00 155.50" fill="none" stroke="#5a5a5a" stroke-width="9.10" stroke-linejoin="miter"/><path d="M736.00 209.30 L716.00 200.60 L696.00 199.80 L670.40 187.20 L644.80 167.40 L624.00 159.80 L612.00 155.50" fill="none" stroke="#b4b4b4" stroke-width="6.90" stroke-linejoin="miter"/><path d="M736.00 209.30 L716.00 200.60 L696.00 199.80 L670.40 187.20 L644.80 167.40 L624.00 159.80 L612.00 155.50" fill="none" stroke="#d4d4d4" stroke-width="2.60" stroke-linejoin="miter"/>
<g transform="translate(604.50 153.00) scale(-1 1) rotate(-27.50)">
<rect x="-9" y="-20" width="13" height="6" rx="1.5" fill="#d8bc38" stroke="#e9c000" stroke-width="1.1"/>
<circle cx="-5" cy="-17" r="0.9" fill="#f4f0d8"/><circle cx="0" cy="-17" r="0.9" fill="#f4f0d8"/>
<rect x="-18" y="-15" width="37" height="5.5" rx="1" fill="#575240" stroke="#e9c000" stroke-width="1.2"/>
<rect x="-20.5" y="-10" width="40" height="3.5" rx="1" fill="#181818" stroke="#e9c000" stroke-width="1.1"/>
<rect x="-3" y="13.5" width="13" height="6" rx="1.5" fill="#d8bc38" stroke="#e9c000" stroke-width="1.1"/>
<circle cx="1" cy="16.5" r="0.9" fill="#f4f0d8"/><circle cx="6" cy="16.5" r="0.9" fill="#f4f0d8"/>
<rect x="-18" y="9.5" width="37" height="5" rx="1" fill="#575240" stroke="#e9c000" stroke-width="1.2"/>
<rect x="-19" y="6.5" width="40" height="3.5" rx="1" fill="#181818" stroke="#e9c000" stroke-width="1.1"/>
<rect x="-18" y="-7" width="36" height="14" fill="url(#gSilver)" stroke="#777" stroke-width="0.6"/>
</g>
<rect x="274" y="359" width="160" height="12.6" rx="2" fill="url(#gBar)" stroke="#666" stroke-width="1.1"/>
<rect x="580" y="359" width="157.4" height="12.2" rx="2" fill="url(#gBar)" stroke="#666" stroke-width="1.1"/>
<path d="M290.5 366.5 L290.5 365 A74.5 80.7 0 0 1 365 284.3 L636 284.3 A71.5 82 0 0 1 707.5 366.3 L707.5 367" fill="none" stroke="#656565" stroke-width="5.6" stroke-linecap="round"/>
<rect x="387.00" y="265.00" width="7.75" height="36.50" rx="1.5" fill="url(#gV)" stroke="#e9c000" stroke-width="1.3"/>
<rect x="416.50" y="265.00" width="6.75" height="36.50" rx="1.5" fill="url(#gV)" stroke="#e9c000" stroke-width="1.3"/>
<rect x="394.75" y="269.00" width="21.75" height="30.50" rx="0.8" fill="url(#gV)" stroke="#e9c000" stroke-width="1.3"/>
<rect x="575.70" y="265.50" width="7.30" height="35.90" rx="1.5" fill="url(#gV)" stroke="#e9c000" stroke-width="1.3"/>
<rect x="604.50" y="265.50" width="7.30" height="35.90" rx="1.5" fill="url(#gV)" stroke="#e9c000" stroke-width="1.3"/>
<rect x="583.00" y="269.30" width="21.50" height="30.30" rx="0.8" fill="url(#gV)" stroke="#e9c000" stroke-width="1.3"/>
<rect x="434.50" y="338.30" width="16.50" height="54.00" rx="2.5" fill="url(#gBolt)" stroke="#c4c4c4" stroke-width="0.8"/>
<rect x="427.70" y="355.70" width="29.80" height="17.00" rx="1" fill="url(#gH)" stroke="#e9c000" stroke-width="1.3"/>
<rect x="424.30" y="345.80" width="36.60" height="9.90" rx="1.5" fill="url(#gH)" stroke="#e9c000" stroke-width="1.3"/>
<rect x="424.30" y="372.70" width="36.60" height="10.30" rx="1.5" fill="url(#gH)" stroke="#e9c000" stroke-width="1.3"/>
<rect x="562.00" y="338.00" width="16.00" height="53.60" rx="2.5" fill="url(#gBolt)" stroke="#c4c4c4" stroke-width="0.8"/>
<rect x="555.00" y="355.50" width="28.50" height="17.20" rx="1" fill="url(#gH)" stroke="#e9c000" stroke-width="1.3"/>
<rect x="551.50" y="345.60" width="35.50" height="9.90" rx="1.5" fill="url(#gH)" stroke="#e9c000" stroke-width="1.3"/>
<rect x="551.50" y="372.70" width="35.50" height="10.60" rx="1.5" fill="url(#gH)" stroke="#e9c000" stroke-width="1.3"/>
<rect x="490.00" y="381.50" width="4.80" height="18.10" rx="1.5" fill="url(#gV)" stroke="#e9c000" stroke-width="1.3"/>
<rect x="503.60" y="381.50" width="4.80" height="18.10" rx="1.5" fill="url(#gV)" stroke="#e9c000" stroke-width="1.3"/>
<rect x="494.80" y="384.00" width="8.80" height="14.00" rx="0.8" fill="url(#gV)" stroke="#e9c000" stroke-width="1.3"/>
<rect x="488.7" y="441.7" width="21.8" height="37.3" fill="url(#gH)" stroke="#e9c000" stroke-width="1.3"/>
<rect x="490.5" y="448" width="18.2" height="29.5" fill="#b8b8b8"/>
<rect x="489.5" y="442.5" width="20.2" height="5.5" fill="#2a2a2a"/>
<rect x="497.5" y="448" width="4" height="26" fill="#3a3a3a"/><rect x="494" y="474" width="11" height="3.5" fill="#3a3a3a"/>
<path d="M312.3 688 C310 650 330 617 380 616.5 L640 616.8 C670 617.5 685 645 684.9 688" fill="none" stroke="#656565" stroke-width="4.6" stroke-linecap="round"/>
<rect x="400.20" y="601.30" width="7.40" height="31.90" rx="1.5" fill="url(#gV)" stroke="#e9c000" stroke-width="1.3"/>
<rect x="429.30" y="601.30" width="6.90" height="31.90" rx="1.5" fill="url(#gV)" stroke="#e9c000" stroke-width="1.3"/>
<rect x="407.60" y="598.00" width="21.70" height="36.00" rx="3.5" fill="url(#gV)" stroke="#e9c000" stroke-width="1.3"/>
<rect x="585.40" y="601.40" width="7.60" height="32.00" rx="1.5" fill="url(#gV)" stroke="#e9c000" stroke-width="1.3"/>
<rect x="613.80" y="601.40" width="8.10" height="32.00" rx="1.5" fill="url(#gV)" stroke="#e9c000" stroke-width="1.3"/>
<rect x="593.00" y="597.80" width="20.80" height="36.00" rx="3.5" fill="url(#gV)" stroke="#e9c000" stroke-width="1.3"/>
<circle cx="333.4" cy="659.6" r="22.3" fill="url(#gDisc)" stroke="#b89c10" stroke-width="1.4"/>
<circle cx="333.3" cy="659.6" r="7.8" fill="#fff" stroke="#e9c000" stroke-width="2"/>
<rect x="269" y="824.4" width="5.6" height="16" fill="#8a8a8a" stroke="#666" stroke-width="0.6"/>
<path d="M263.4 839.0 L277.0 839.0 L295.0 835.0 L315.0 834.0 L371.0 837.0 L409.0 860.0 L408.0 876.0 L369.0 851.0 L315.0 850.0 L281.0 852.0 L263.4 853.0 Z" fill="url(#gArm)" stroke="#555" stroke-width="1"/>
<rect x="413.00" y="841.00" width="15.00" height="52.00" rx="2.5" fill="url(#gBolt)" stroke="#c4c4c4" stroke-width="0.8"/>
<rect x="406.00" y="858.00" width="28.00" height="17.00" rx="1" fill="url(#gH)" stroke="#e9c000" stroke-width="1.3"/>
<rect x="402.00" y="848.40" width="36.00" height="9.60" rx="1.5" fill="url(#gH)" stroke="#e9c000" stroke-width="1.3"/>
<rect x="402.00" y="875.00" width="36.00" height="10.60" rx="1.5" fill="url(#gH)" stroke="#e9c000" stroke-width="1.3"/>
<rect x="725.4" y="758.3" width="11.7" height="107" rx="4" fill="url(#gBolt)" stroke="#888" stroke-width="0.8"/>
<path d="M603 748 L615 747 L629 754.5 C635 761 639 768 642 771 C652 776 670 779 690 781.5 L739.7 784.3 L739.7 789.5 L717.6 790 C708 795 692 808 691.6 821.2 C692 835 697 846 702 849.8 L741 853.7 L741 861.5 L702 860.2 C680 862 660 865.4 640 870 C624 874 610 880 600.6 886 C608 870 617 850 617.5 816 C618 790 611 775 600.6 761.4 Z" fill="url(#gWish)" stroke="#333" stroke-width="1"/>
<rect x="725.4" y="783" width="11.7" height="70" fill="url(#gBolt)" stroke="#888" stroke-width="0.8"/>
<rect x="577.70" y="855.00" width="15.10" height="53.30" rx="2.5" fill="url(#gBolt)" stroke="#c4c4c4" stroke-width="0.8"/>
<rect x="570.70" y="873.70" width="29.30" height="16.30" rx="1" fill="url(#gH)" stroke="#e9c000" stroke-width="1.3"/>
<rect x="566.80" y="862.80" width="36.90" height="10.90" rx="1.5" fill="url(#gH)" stroke="#e9c000" stroke-width="1.3"/>
<rect x="566.80" y="890.00" width="36.90" height="10.50" rx="1.5" fill="url(#gH)" stroke="#e9c000" stroke-width="1.3"/>
<g transform="translate(591.5 749.7) rotate(32)"><rect x="-7.50" y="-26.00" width="15.00" height="52.00" rx="2.5" fill="url(#gBolt)" stroke="#c4c4c4" stroke-width="0.8"/>
<rect x="-14.50" y="-8.50" width="29.00" height="17.00" rx="1" fill="url(#gH)" stroke="#e9c000" stroke-width="1.3"/>
<rect x="-18.30" y="-18.50" width="36.60" height="10.00" rx="1.5" fill="url(#gH)" stroke="#e9c000" stroke-width="1.3"/>
<rect x="-18.30" y="8.50" width="36.60" height="10.00" rx="1.5" fill="url(#gH)" stroke="#e9c000" stroke-width="1.3"/></g>
<path d="M438.40 186.80 L420.17 171.39" stroke="#111" stroke-width="1.9"/><path d="M415.20 167.20 L424.40 169.48 L418.98 175.89 Z" fill="#111"/>
<circle cx="450.40" cy="200.40" r="17.50" fill="#fff" stroke="#161616" stroke-width="1.7"/>
<text x="0" y="6.8" text-anchor="middle" transform="translate(450.90 200.80) scale(0.890 0.930)" font-family="Liberation Serif" font-weight="bold" font-style="italic" font-size="19.5" fill="#000" stroke="#000" stroke-width="1.5" stroke-linejoin="round">1</text>
<path d="M473.75 255.00 L442.11 270.19" stroke="#111" stroke-width="1.9"/><path d="M436.25 273.00 L442.10 265.54 L445.73 273.11 Z" fill="#111"/>
<circle cx="488.75" cy="242.50" r="17.50" fill="#fff" stroke="#161616" stroke-width="1.7"/>
<text x="0" y="6.8" text-anchor="middle" transform="translate(489.60 243.00) scale(1.250 0.930)" font-family="Liberation Serif" font-weight="bold" font-style="italic" font-size="19.5" fill="#000" stroke="#000" stroke-width="1.5" stroke-linejoin="round">3</text>
<path d="M505.00 248.00 L556.96 268.60" stroke="#111" stroke-width="1.9"/><path d="M563.00 271.00 L553.55 271.77 L556.65 263.96 Z" fill="#111"/>
<path d="M516.40 359.00 L507.55 369.69" stroke="#111" stroke-width="1.9"/><path d="M503.40 374.70 L505.59 365.47 L512.06 370.83 Z" fill="#111"/>
<circle cx="526.50" cy="342.80" r="17.50" fill="#fff" stroke="#161616" stroke-width="1.7"/>
<text x="0" y="6.8" text-anchor="middle" transform="translate(526.50 342.80) scale(1.260 0.930)" font-family="Liberation Serif" font-weight="bold" font-style="italic" font-size="19.5" fill="#000" stroke="#000" stroke-width="1.5" stroke-linejoin="round">31</text>
<path d="M612.00 396.40 L598.26 387.53" stroke="#111" stroke-width="1.9"/><path d="M592.80 384.00 L602.22 385.08 L597.66 392.14 Z" fill="#111"/>
<circle cx="628.00" cy="404.00" r="17.50" fill="#fff" stroke="#161616" stroke-width="1.7"/>
<text x="0" y="6.8" text-anchor="middle" transform="translate(629.10 405.00) scale(1.200 0.930)" font-family="Liberation Serif" font-weight="bold" font-style="italic" font-size="19.5" fill="#000" stroke="#000" stroke-width="1.5" stroke-linejoin="round">2</text>
<path d="M456.40 434.80 L472.90 442.46" stroke="#111" stroke-width="1.9"/><path d="M478.80 445.20 L469.32 445.43 L472.86 437.81 Z" fill="#111"/>
<circle cx="439.60" cy="430.00" r="17.50" fill="#fff" stroke="#161616" stroke-width="1.7"/>
<text x="0" y="6.8" text-anchor="middle" transform="translate(440.00 429.60) scale(1.260 0.930)" font-family="Liberation Serif" font-weight="bold" font-style="italic" font-size="19.5" fill="#000" stroke="#000" stroke-width="1.5" stroke-linejoin="round">32</text>
<path d="M299.00 617.00 L310.66 636.43" stroke="#111" stroke-width="1.9"/><path d="M314.00 642.00 L306.03 636.87 L313.23 632.55 Z" fill="#111"/>
<circle cx="292.05" cy="599.40" r="17.50" fill="#fff" stroke="#161616" stroke-width="1.7"/>
<text x="0" y="6.8" text-anchor="middle" transform="translate(293.20 598.90) scale(1.350 0.930)" font-family="Liberation Serif" font-weight="bold" font-style="italic" font-size="19.5" fill="#000" stroke="#000" stroke-width="1.5" stroke-linejoin="round">20</text>
<path d="M630.90 571.30 L617.54 590.28" stroke="#111" stroke-width="1.9"/><path d="M613.80 595.60 L615.26 586.23 L622.13 591.07 Z" fill="#111"/>
<circle cx="642.60" cy="554.50" r="17.50" fill="#fff" stroke="#161616" stroke-width="1.7"/>
<text x="0" y="6.8" text-anchor="middle" transform="translate(642.80 554.20) scale(1.110 0.930)" font-family="Liberation Serif" font-weight="bold" font-style="italic" font-size="19.5" fill="#000" stroke="#000" stroke-width="1.5" stroke-linejoin="round">14</text>
<path d="M562.90 712.00 L573.94 731.07" stroke="#111" stroke-width="1.9"/><path d="M577.20 736.70 L569.31 731.45 L576.58 727.24 Z" fill="#111"/>
<circle cx="556.20" cy="694.40" r="17.50" fill="#fff" stroke="#161616" stroke-width="1.7"/>
<text x="0" y="6.8" text-anchor="middle" transform="translate(556.20 695.15) scale(1.160 0.930)" font-family="Liberation Serif" font-weight="bold" font-style="italic" font-size="19.5" fill="#000" stroke="#000" stroke-width="1.5" stroke-linejoin="round">10</text>
<path d="M559.00 834.20 L568.84 851.92" stroke="#111" stroke-width="1.9"/><path d="M572.00 857.60 L564.20 852.21 L571.54 848.13 Z" fill="#111"/>
<circle cx="550.90" cy="816.60" r="17.50" fill="#fff" stroke="#161616" stroke-width="1.7"/>
<text x="0" y="6.8" text-anchor="middle" transform="translate(549.50 816.45) scale(0.980 0.930)" font-family="Liberation Serif" font-weight="bold" font-style="italic" font-size="19.5" fill="#000" stroke="#000" stroke-width="1.5" stroke-linejoin="round">11</text>
<path d="M403.00 811.00 L413.82 830.33" stroke="#111" stroke-width="1.9"/><path d="M417.00 836.00 L409.18 830.64 L416.51 826.53 Z" fill="#111"/>
<circle cx="396.05" cy="793.80" r="17.50" fill="#fff" stroke="#161616" stroke-width="1.7"/>
<text x="0" y="6.8" text-anchor="middle" transform="translate(395.85 793.90) scale(1.055 0.930)" font-family="Liberation Serif" font-weight="bold" font-style="italic" font-size="19.5" fill="#000" stroke="#000" stroke-width="1.5" stroke-linejoin="round">12</text>
<rect x="410" y="21.3" width="178" height="28.5" rx="8" fill="url(#gLogoBg)" stroke="url(#gLogoBd)" stroke-width="2.6"/>
<text x="414.5" y="47" font-family="Liberation Sans" font-weight="bold" font-style="italic" font-size="34" fill="#c8a018" stroke="#c8a018" stroke-width="1">P</text>
<text x="412.5" y="46" font-family="Liberation Sans" font-weight="bold" font-style="italic" font-size="34" fill="#0e1a2a" stroke="#0e1a2a" stroke-width="1.4">P</text>
<text x="437.5" y="45.5" textLength="146" lengthAdjust="spacingAndGlyphs" font-family="Liberation Sans" font-weight="bold" font-style="italic" font-size="28" fill="#c8a018" stroke="#c8a018" stroke-width="1">OWERFLEX</text>
<text x="436" y="44.5" textLength="146" lengthAdjust="spacingAndGlyphs" font-family="Liberation Sans" font-weight="bold" font-style="italic" font-size="28" fill="#0e1a2a" stroke="#0e1a2a" stroke-width="1.2">OWERFLEX</text>
<text x="459" y="61.8" textLength="124" lengthAdjust="spacingAndGlyphs" font-family="Liberation Sans" font-weight="bold" font-size="19" fill="url(#gOrange)" stroke="#a86010" stroke-width="0.5">Black Series</text>
<path d="M450 53.5 H589" stroke="#6a7888" stroke-width="0.8"/>
<text x="457" y="78" textLength="127" lengthAdjust="spacingAndGlyphs" font-family="Liberation Sans" font-weight="bold" font-size="11" fill="#f0d030">Designed for the Track -- Ready to Race</text>
<text x="349.60" y="100.8" textLength="33.60" lengthAdjust="spacingAndGlyphs" font-family="Liberation Sans" font-weight="bold" font-style="italic" font-size="18.6" fill="#000" stroke="#000" stroke-width="1.5" stroke-linejoin="round">E60</text>
<text x="392.00" y="100.8" textLength="11.20" lengthAdjust="spacingAndGlyphs" font-family="Liberation Sans" font-weight="bold" font-style="italic" font-size="18.6" fill="#000" stroke="#000" stroke-width="1.5" stroke-linejoin="round">5</text>
<text x="408.80" y="100.8" textLength="68.80" lengthAdjust="spacingAndGlyphs" font-family="Liberation Sans" font-weight="bold" font-style="italic" font-size="18.6" fill="#000" stroke="#000" stroke-width="1.5" stroke-linejoin="round">SERIES,</text>
<text x="484.00" y="100.8" textLength="28.00" lengthAdjust="spacingAndGlyphs" font-family="Liberation Sans" font-weight="bold" font-style="italic" font-size="18.6" fill="#000" stroke="#000" stroke-width="1.5" stroke-linejoin="round">M5</text>
<text x="518.00" y="100.8" textLength="58.70" lengthAdjust="spacingAndGlyphs" font-family="Liberation Sans" font-weight="bold" font-style="italic" font-size="18.6" fill="#000" stroke="#000" stroke-width="1.5" stroke-linejoin="round">(2005</text>
<text x="581.80" y="100.8" textLength="5.20" lengthAdjust="spacingAndGlyphs" font-family="Liberation Sans" font-weight="bold" font-style="italic" font-size="18.6" fill="#000" stroke="#000" stroke-width="1.5" stroke-linejoin="round">-</text>
<text x="593.70" y="100.8" textLength="56.30" lengthAdjust="spacingAndGlyphs" font-family="Liberation Sans" font-weight="bold" font-style="italic" font-size="18.6" fill="#000" stroke="#000" stroke-width="1.5" stroke-linejoin="round">2010)</text>
</svg>
</body></html>
